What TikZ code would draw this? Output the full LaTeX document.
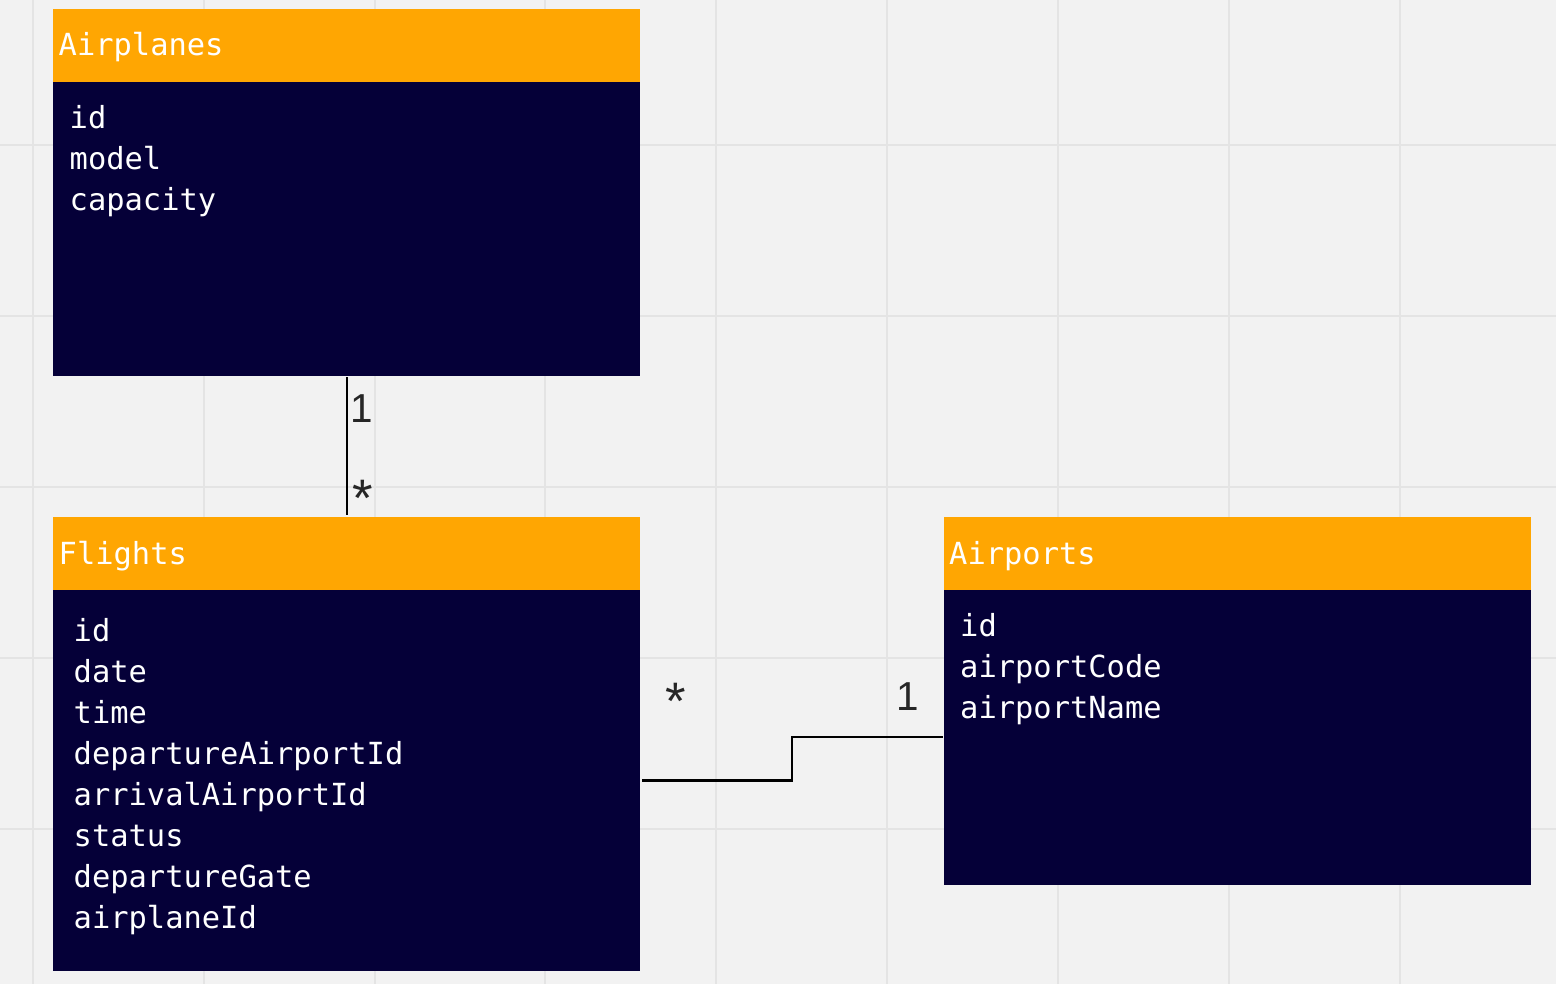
\documentclass[tikz,border=0pt]{standalone}
\usepackage{fontspec}
\newfontfamily\monofam{DejaVu Sans Mono}
\newfontfamily\labelfam{Liberation Sans}
\usetikzlibrary{positioning}
\definecolor{canvas}{HTML}{F2F2F2}
\definecolor{gridgray}{HTML}{E4E4E4}
\definecolor{headorange}{HTML}{FFA602}
\definecolor{bodynavy}{HTML}{050038}
\tikzset{
  tablehead/.style={fill=headorange,minimum width=5.87cm,minimum height=0.73cm,inner sep=0pt,outer sep=0pt,anchor=north west},
  tablebody/.style={fill=bodynavy,minimum width=5.87cm,inner sep=0pt,outer sep=0pt},
  title/.style={text=white,font=\monofam\fontsize{8.65}{10}\selectfont,inner sep=0pt,anchor=base west},
  field/.style={text=white,font=\monofam\fontsize{8.65}{10}\selectfont,inner sep=0pt,anchor=base west},
  mult/.style={text=black!85,font=\labelfam\fontsize{11.5}{12}\selectfont,inner sep=0pt,anchor=base},
  multstar/.style={mult,font=\labelfam\fontsize{15}{16}\selectfont},
  link/.style={draw=black,line width=0.6pt},
  gridline/.style={draw=gridgray,line width=0.55pt}
}

\begin{document}
\begin{tikzpicture}[x=0.01cm,y=-0.01cm]
    \fill[canvas] (0,0) rectangle (1556,984);
    \useasboundingbox (0,0) rectangle (1556,984);
    \foreach \gx in {33,204,375,545,716,887,1058,1229,1400}
        \draw[gridline] (\gx,0) -- (\gx,984);
    \foreach \gy in {145,316,487,658,829}
        \draw[gridline] (0,\gy) -- (1556,\gy);

    \node[tablehead] (planeshead) at (53,9) {};
    \node[tablebody,minimum height=2.94cm,below=0pt of planeshead] (planesbody) {};
    \node[tablehead,below=1.41cm of planesbody] (flightshead) {};
    \node[tablebody,minimum height=3.8cm,below=0pt of flightshead] (flightsbody) {};
    \node[tablehead,right=3.03cm of flightshead] (airportshead) {};
    \node[tablebody,minimum height=2.94cm,below=0pt of airportshead] (airportsbody) {};

    \node[title] (planestitle) at ([shift={(5,10)}]planeshead.west) {Airplanes};
    \node[title] (flightstitle) at ([shift={(5,11)}]flightshead.west) {Flights};
    \node[title] (airportstitle) at ([shift={(5,11)}]airportshead.west) {Airports};

    \foreach \f [count=\i from 0] in {id,model,capacity}
        \node[field] (planes-\i) at ([shift={(16,{46+41*\i})}]planesbody.north west) {\f};
    \foreach \f [count=\i from 0] in {id,date,time,departureAirportId,arrivalAirportId,status,departureGate,airplaneId}
        \node[field] (flights-\i) at ([shift={(20,{51+41*\i})}]flightsbody.north west) {\f};
    \foreach \f [count=\i from 0] in {id,airportCode,airportName}
        \node[field] (airports-\i) at ([shift={(16,{46+41*\i})}]airportsbody.north west) {\f};

    \draw[link] ([yshift=-0.01cm]planesbody.south) -- ([yshift=0.02cm]flightshead.north);
    \draw[link] ([xshift=0.02cm]flightsbody.east) -- ++(150,0) |- ([xshift=-0.01cm]airportsbody.west);

    \node[mult] (planes-one) at (362,422) {1};
    \node[multstar] (flights-many) at (363,516) {*};
    \node[multstar] (route-many) at (676,719) {*};
    \node[mult] (route-one) at (908,710) {1};
\end{tikzpicture}
\end{document}
